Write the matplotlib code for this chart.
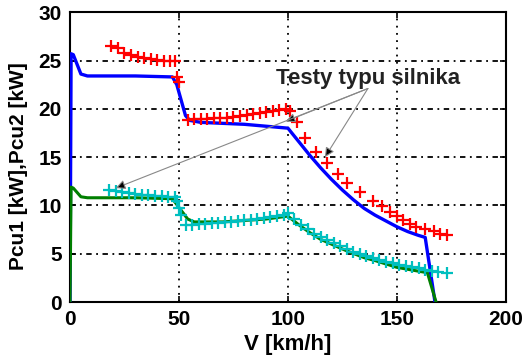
import matplotlib
matplotlib.use("Agg")
import matplotlib.pyplot as plt

# model curves (lines)
v_pcu2 = [0, 0.5, 1.5, 5, 8, 30, 47, 49, 53, 55, 60, 80, 100, 105, 110, 115, 120, 125, 130, 135, 140, 145, 150, 155, 160, 163, 167.5]
pcu2 = [0, 25.7, 25.6, 23.6, 23.4, 23.4, 23.3, 22.5, 19.3, 18.8, 18.6, 18.4, 18.0, 16.6, 15.2, 13.9, 12.7, 11.6, 10.6, 9.7, 9.0, 8.4, 7.8, 7.3, 6.9, 6.7, 0]
v_pcu1 = [0, 0.5, 1.5, 5, 8, 30, 47, 50, 54, 57, 70, 90, 100, 105, 110, 115, 120, 126, 135, 140, 150, 160, 164, 168]
pcu1 = [0, 11.9, 11.8, 10.9, 10.8, 10.8, 10.7, 9.8, 8.6, 8.3, 8.3, 8.6, 8.9, 8.0, 7.2, 6.5, 6.0, 5.4, 4.6, 4.3, 3.6, 3.2, 3.05, 0]

# measured points (markers)
v_test2 = [19, 22, 25, 28, 31, 34, 37, 40, 43, 46, 48, 49, 50,
           54, 57, 60, 63, 66, 69, 72, 75, 78, 81, 84, 87, 90, 93, 96, 99,
           101, 104, 108, 113, 118, 123, 127, 133, 139, 143, 147, 150, 153, 156, 159, 163, 167, 170, 173]
test2 = [26.5, 26.3, 25.8, 25.6, 25.4, 25.3, 25.2, 25.1, 25.0, 25.0, 24.9, 23.3, 22.8,
         18.8, 18.9, 18.9, 18.9, 19.0, 19.0, 19.1, 19.2, 19.3, 19.4, 19.5, 19.6, 19.7, 19.8, 19.9, 20.0,
         19.8, 18.6, 17.0, 15.5, 14.4, 13.3, 12.3, 11.4, 10.5, 9.9, 9.3, 8.9, 8.5, 8.1, 7.8, 7.6, 7.4, 7.1, 6.9]
v_test1 = [18, 21, 24, 27, 30, 33, 36, 39, 42, 45, 48, 49, 50, 51,
           53, 56, 59, 62, 65, 68, 71, 74, 77, 80, 83, 86, 89, 92, 95, 98, 100,
           103, 106, 109, 112, 115, 118, 121, 124, 127, 130, 133, 136, 139, 142, 145, 148, 151, 154, 157, 160, 163, 166, 169, 173]
test1 = [11.6, 11.5, 11.4, 11.3, 11.2, 11.1, 11.1, 11.0, 11.0, 10.9, 10.9, 10.5, 9.7, 9.0,
         8.0, 8.0, 8.1, 8.1, 8.2, 8.2, 8.3, 8.3, 8.4, 8.5, 8.5, 8.6, 8.7, 8.8, 8.9, 9.0, 9.2,
         8.6, 8.0, 7.6, 7.1, 6.7, 6.4, 6.1, 5.8, 5.5, 5.2, 5.0, 4.8, 4.6, 4.4, 4.2, 4.0, 3.8, 3.7, 3.6, 3.5, 3.3, 3.2, 3.1, 3.0]

label_text = "Testy typu silnika"
text_pos = (137, 23.1)
arrow_from = (136.7, 22.1)
arrow_tips = [(99, 18.7), (117, 15.0), (21, 11.8)]

plt.rcParams['font.family'] = ['Liberation Sans', 'DejaVu Sans']
plt.rcParams['font.weight'] = 'bold'

fig = plt.figure(figsize=(5.28, 3.58), dpi=100)
ax = fig.add_axes([0.1326, 0.156, 0.8254, 0.81])

ax.plot(v_pcu2, pcu2, color='#0000ff', lw=2.4, zorder=3)
ax.plot(v_test2, test2, 'r+', ms=9, mew=1.6, zorder=4)
ax.plot(v_pcu1, pcu1, color='#007f00', lw=2.2, zorder=5)
ax.plot(v_test1, test1, '+', color='#00bfbf', ms=9, mew=1.6, zorder=6)

for tip in arrow_tips:
    ax.annotate("", xy=tip, xytext=arrow_from,
                arrowprops=dict(arrowstyle='-|>', color='#888888', fc='black', ec='#888888',
                                lw=0.8, mutation_scale=14, shrinkA=0, shrinkB=0), zorder=7)
ax.text(text_pos[0], text_pos[1], label_text, ha='center', va='center',
        fontsize=16, fontweight='bold', color='#222222', zorder=8)

ax.set_xlim(0, 200)
ax.set_ylim(0, 30)
ax.set_xticks([0, 50, 100, 150, 200])
ax.set_yticks([0, 5, 10, 15, 20, 25, 30])
ax.xaxis.grid(True, color='black', ls=(0, (1, 3)), lw=1.3)
ax.yaxis.grid(True, color='black', ls=(0, (3, 2.5, 1, 2.5)), lw=1.3)
ax.tick_params(direction='in', length=4, width=1.2, labelsize=15, top=True, right=True, pad=6)
for lbl in ax.get_xticklabels() + ax.get_yticklabels():
    lbl.set_fontweight('bold')
for s in ax.spines.values():
    s.set_linewidth(1.5)

ax.set_xlabel("V [km/h]", fontsize=16, fontweight='bold', labelpad=3)
ax.set_ylabel("Pcu1 [kW],Pcu2 [kW]", fontsize=15, fontweight='bold')
ax.yaxis.set_label_coords(-0.096, 0.47)

fig.savefig("out.png", dpi=100)
